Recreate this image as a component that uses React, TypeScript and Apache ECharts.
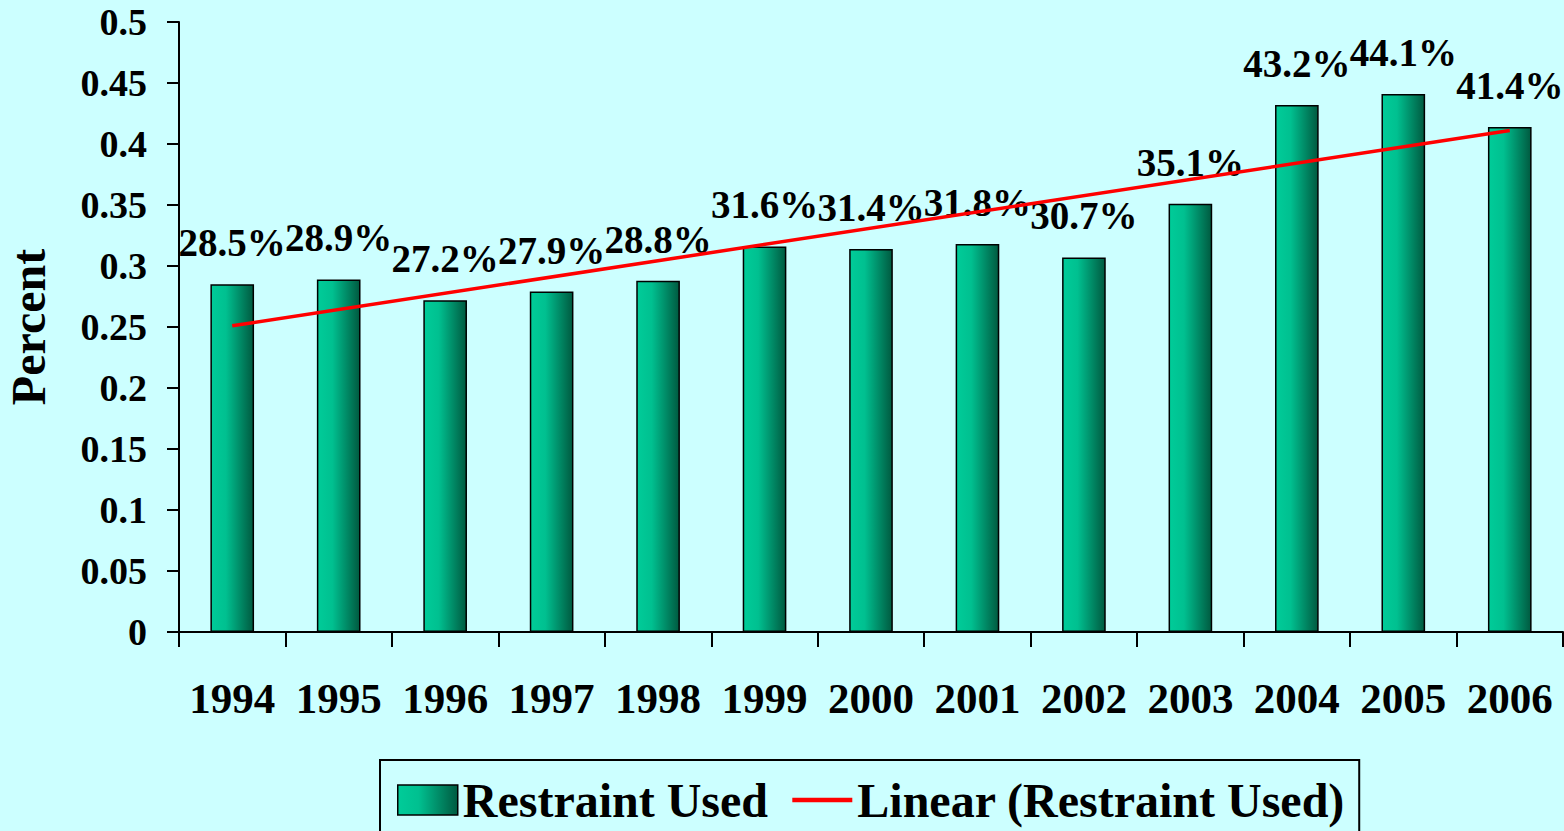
import React, { useEffect, useRef } from "react";
import * as echarts from "echarts";

const categories = ["1994", "1995", "1996", "1997", "1998", "1999", "2000", "2001", "2002", "2003", "2004", "2005", "2006"];
const restraintUsed = [0.285, 0.289, 0.272, 0.279, 0.288, 0.316, 0.314, 0.318, 0.307, 0.351, 0.432, 0.441, 0.414];
// Trend line: value at first and last category
const trendStart = 0.251;
const trendEnd = 0.411;

const FONT = '"Liberation Serif", "Times New Roman", serif';

export default function App() {
  const ref = useRef<HTMLDivElement>(null);
  useEffect(() => {
    if (!ref.current) return;
    const chart = echarts.init(ref.current, null, { renderer: "svg" });
    const trendData = categories.map((_, i) =>
      i === 0 ? trendStart : i === categories.length - 1 ? trendEnd : null
    );
    chart.setOption({
      animation: false,
      backgroundColor: "#CCFFFF",
      textStyle: { fontFamily: FONT, fontWeight: "bold", color: "#000" },
      grid: { left: 179, right: 1, top: 22, bottom: 199, containLabel: false, outerBoundsMode: "none" },
      legend: {
        left: 380,
        top: 760,
        padding: [16, 14, 30, 17],
        itemGap: 22,
        itemWidth: 60,
        itemHeight: 30,
        borderColor: "#000",
        borderWidth: 2,
        backgroundColor: "#CCFFFF",
        textStyle: { fontFamily: FONT, fontWeight: "bold", fontSize: 48, color: "#000" },
        data: [
          { name: "Restraint Used", icon: "rect", itemStyle: { borderColor: "#000", borderWidth: 1.5 } },
          { name: "Linear (Restraint Used)", itemStyle: { opacity: 0 }, lineStyle: { width: 4.5, color: "#FF0000" } },
        ],
      },
      xAxis: {
        type: "category",
        data: categories,
        axisLine: { lineStyle: { color: "#000", width: 2 } },
        axisTick: { show: true, length: 15, lineStyle: { color: "#000", width: 2 } },
        axisLabel: { interval: 0, fontFamily: FONT, fontWeight: "bold", fontSize: 43, color: "#000", margin: 45 },
      },
      yAxis: {
        type: "value",
        min: 0,
        max: 0.5,
        interval: 0.05,
        name: "Percent",
        nameLocation: "middle",
        nameGap: 127,
        nameRotate: 90,
        nameTextStyle: { fontFamily: FONT, fontWeight: "bold", fontSize: 48, color: "#000" },
        axisLine: { show: true, lineStyle: { color: "#000", width: 2 } },
        axisTick: { show: true, length: 12, lineStyle: { color: "#000", width: 2 } },
        splitLine: { show: false },
        axisLabel: { fontFamily: FONT, fontWeight: "bold", fontSize: 38, color: "#000", margin: 32 },
      },
      series: [
        {
          name: "Restraint Used",
          type: "bar",
          data: restraintUsed,
          barWidth: "41%",
          z: 2,
          itemStyle: {
            color: new echarts.graphic.LinearGradient(0, 0, 1, 0, [
              { offset: 0, color: "#00CC99" },
              { offset: 0.35, color: "#00C090" },
              { offset: 1, color: "#005A40" },
            ]),
            borderColor: "#000",
            borderWidth: 1.5,
          },
          label: {
            show: true,
            position: "top",
            distance: 22,
            fontFamily: FONT,
            fontWeight: "bold",
            fontSize: 39,
            color: "#000",
            formatter: (p: any) => (p.value * 100).toFixed(1) + "%",
          },
        },
        {
          name: "Linear (Restraint Used)",
          type: "line",
          data: trendData,
          connectNulls: true,
          symbol: "none",
          z: 10,
          lineStyle: { color: "#FF0000", width: 3.5 },
          itemStyle: { color: "#FF0000" },
        },
      ],
    });
    return () => chart.dispose();
  }, []);
  return (
    <div
      ref={ref}
      style={{ position: "fixed", left: 0, top: 0, width: 1564, height: 831 }}
    />
  );
}
